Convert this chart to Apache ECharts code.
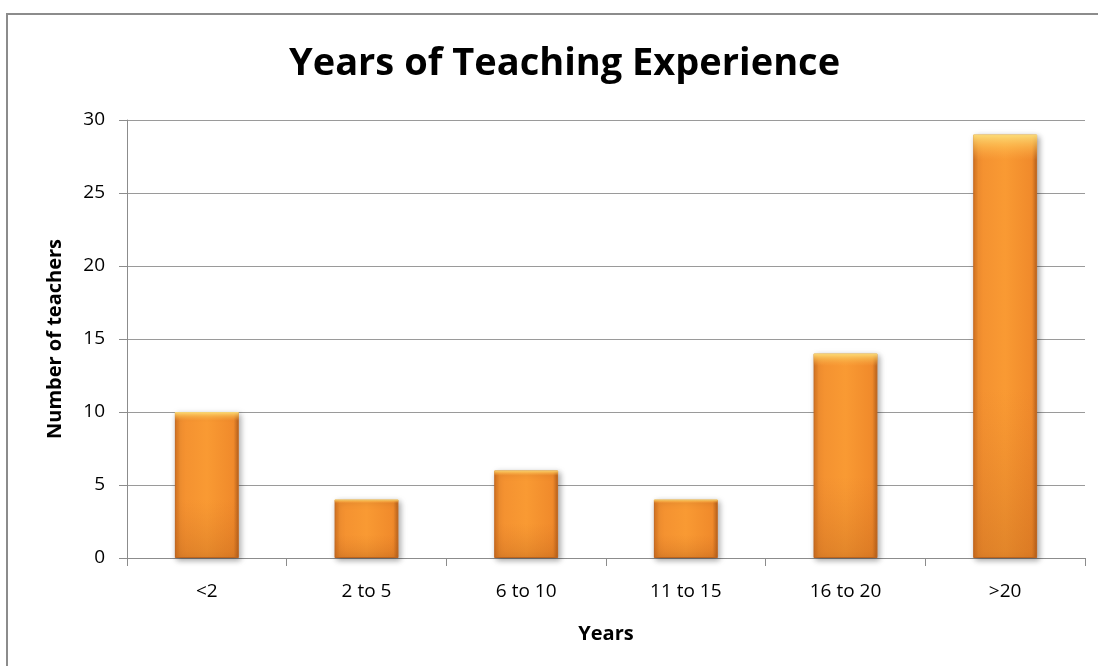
<!DOCTYPE html>
<html>
<head>
<meta charset="utf-8">
<script src="https://cdn.jsdelivr.net/npm/echarts@6/dist/echarts.min.js"></script>
<style>
  html, body { margin: 0; padding: 0; background: #fff; overflow: hidden; }
  #chart { width: 1098px; height: 666px; }
</style>
</head>
<body>
<div id="chart"></div>
<script>
// 分类和数值
var categories = ['<2', '2 to 5', '6 to 10', '11 to 15', '16 to 20', '>20'];
var teachers = [10, 4, 6, 4, 14, 29];

var chart = echarts.init(document.getElementById('chart'));
var font = '"Open Sans", "DejaVu Sans", sans-serif';

chart.setOption({
  animation: false,
  // 外框（只有上边和左边可见）
  graphic: [
    { type: 'line', shape: { x1: 6, y1: 14, x2: 1098, y2: 14 }, style: { stroke: '#8c8c8c', lineWidth: 2 } },
    { type: 'line', shape: { x1: 7, y1: 13, x2: 7, y2: 666 }, style: { stroke: '#8c8c8c', lineWidth: 2 } }
  ],
  title: {
    text: 'Years of Teaching Experience',
    left: 284,
    top: 40,
    textStyle: { fontFamily: font, fontSize: 38, fontWeight: 'bold', color: '#000' }
  },
  grid: { left: 127, right: 13, top: 120, bottom: 108, containLabel: false },
  xAxis: {
    type: 'category',
    data: categories,
    name: 'Years',
    nameLocation: 'middle',
    nameGap: 66,
    nameTextStyle: { fontFamily: font, fontSize: 20, fontWeight: 'bold', color: '#000' },
    axisLine: { lineStyle: { color: '#8c8c8c', width: 1 } },
    axisTick: { show: true, length: 8, alignWithLabel: false, lineStyle: { color: '#8c8c8c' } },
    axisLabel: { fontFamily: font, fontSize: 19, color: '#000', margin: 24 }
  },
  yAxis: {
    type: 'value',
    min: 0, max: 30, interval: 5,
    name: 'Number of teachers',
    nameLocation: 'middle',
    nameGap: 62,
    nameTextStyle: { fontFamily: font, fontSize: 20, fontWeight: 'bold', color: '#000' },
    axisLine: { show: true, lineStyle: { color: '#8c8c8c', width: 1 } },
    axisTick: { show: true, length: 8, lineStyle: { color: '#8c8c8c' } },
    axisLabel: { fontFamily: font, fontSize: 19, color: '#000', margin: 22 },
    splitLine: { lineStyle: { color: '#9a9a9a', width: 1 } }
  },
  series: [{
    type: 'bar',
    data: teachers,
    barWidth: '40%',
    itemStyle: {
      color: new echarts.graphic.LinearGradient(0, 0, 1, 0, [
        { offset: 0, color: '#d8741f' },
        { offset: 0.08, color: '#f39030' },
        { offset: 0.5, color: '#f99a33' },
        { offset: 0.92, color: '#f08a2b' },
        { offset: 1, color: '#b9621c' }
      ]),
      borderColor: '#c46a22',
      borderWidth: 1,
      shadowColor: 'rgba(0,0,0,0.35)',
      shadowBlur: 6,
      shadowOffsetX: 2,
      shadowOffsetY: 2
    }
  }, {
    // 顶部高光
    type: 'bar',
    data: teachers,
    barWidth: '40%',
    barGap: '-100%',
    silent: true,
    itemStyle: {
      color: new echarts.graphic.LinearGradient(0, 0, 0, 1, [
        { offset: 0, color: 'rgba(255,230,130,0.9)' },
        { offset: 0.03, color: 'rgba(255,200,90,0.5)' },
        { offset: 0.06, color: 'rgba(255,180,80,0)' },
        { offset: 0.6, color: 'rgba(200,100,30,0)' },
        { offset: 1, color: 'rgba(170,85,20,0.3)' }
      ])
    }
  }]
});
</script>
</body>
</html>
